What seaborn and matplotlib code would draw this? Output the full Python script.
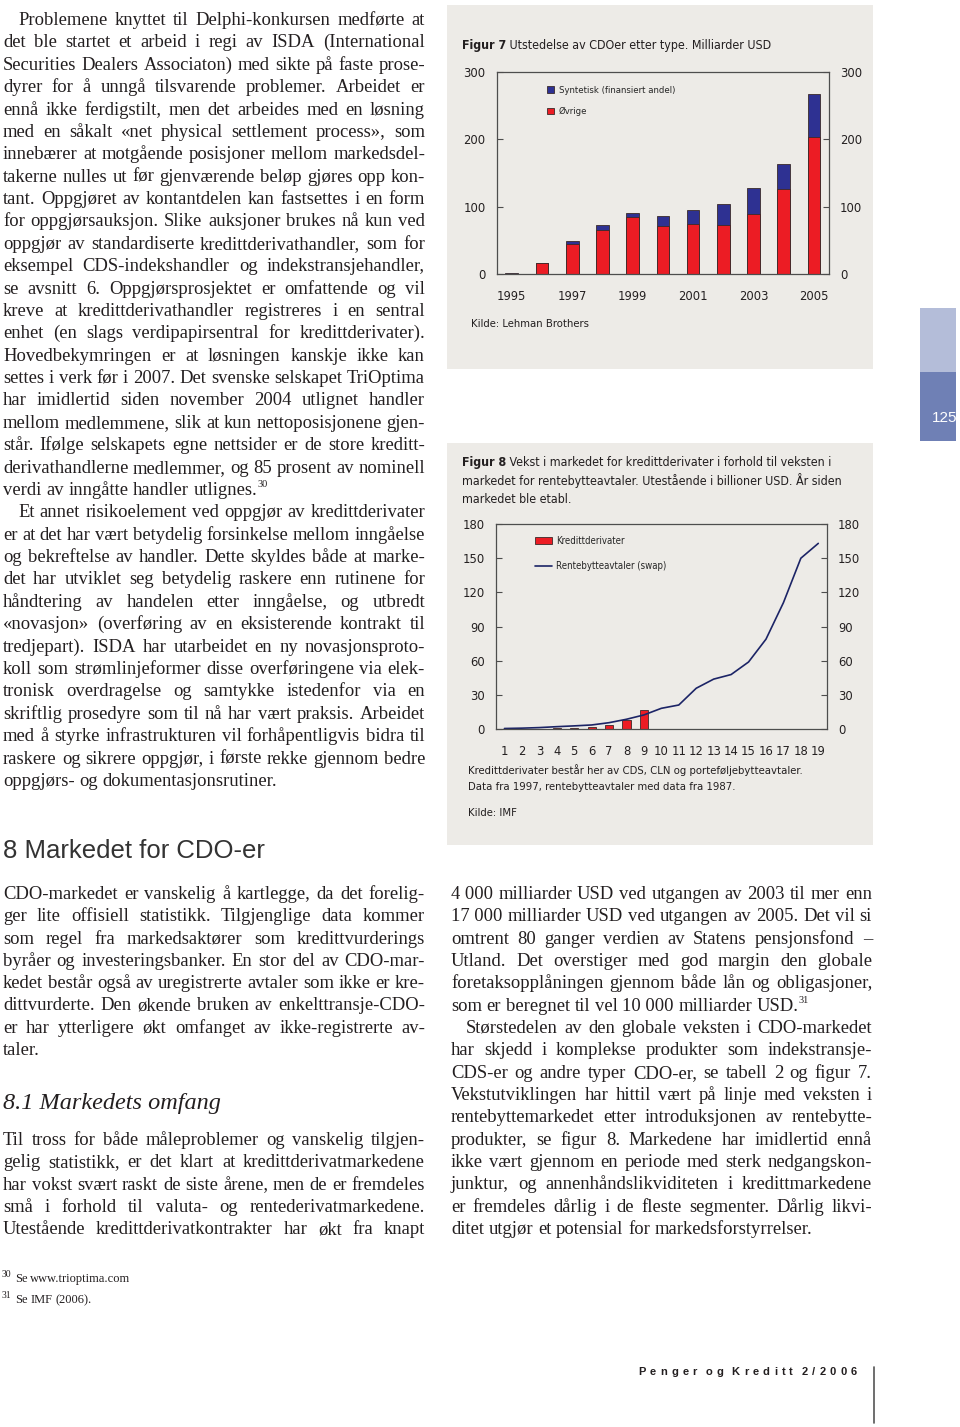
import matplotlib
matplotlib.use("Agg")
import matplotlib.pyplot as plt
from matplotlib import font_manager
from matplotlib.font_manager import FontProperties
from matplotlib.patches import Rectangle
from matplotlib.lines import Line2D
import pandas as pd
import seaborn as sns


# --------------------------------------------------
# Chart data
# --------------------------------------------------

cdo_years = ["1995", "1996", "1997", "1998", "1999", "2000",
             "2001", "2002", "2003", "2004", "2005"]
cdo_ovrige = [1, 16, 45, 66, 85, 72, 74, 73, 89, 126, 203]
cdo_syntetisk = [0.5, 0, 5, 6.5, 6, 15, 21, 31.5, 39, 38, 64]

swap_years = list(range(1, 20))
swap_values = [0.7, 1.0, 1.5, 2.3, 3.0, 3.8, 5.8, 8.8, 12.6, 18.4,
               21.3, 36, 44, 48, 59, 79, 111, 150, 163]

kreditt_years = list(range(1, 10))
kreditt_values = [0.2, 0.35, 0.6, 0.9, 1.2, 2.3, 3.5, 8.2, 17]


# --------------------------------------------------
# Page text
# --------------------------------------------------

left_par1 = [
    "Problemene knyttet til Delphi-konkursen medførte at",
    "det ble startet et arbeid i regi av ISDA (International",
    "Securities Dealers Associaton) med sikte på faste prose-",
    "dyrer for å unngå tilsvarende problemer. Arbeidet er",
    "ennå ikke ferdigstilt, men det arbeides med en løsning",
    "med en såkalt «net physical settlement process», som",
    "innebærer at motgående posisjoner mellom markedsdel-",
    "takerne nulles ut før gjenværende beløp gjøres opp kon-",
    "tant. Oppgjøret av kontantdelen kan fastsettes i en form",
    "for oppgjørsauksjon. Slike auksjoner brukes nå kun ved",
    "oppgjør av standardiserte kredittderivathandler, som for",
    "eksempel CDS-indekshandler og indekstransjehandler,",
    "se avsnitt 6. Oppgjørsprosjektet er omfattende og vil",
    "kreve at kredittderivathandler registreres i en sentral",
    "enhet (en slags verdipapirsentral for kredittderivater).",
    "Hovedbekymringen er at løsningen kanskje ikke kan",
    "settes i verk før i 2007. Det svenske selskapet TriOptima",
    "har imidlertid siden november 2004 utlignet handler",
    "mellom medlemmene, slik at kun nettoposisjonene gjen-",
    "står. Ifølge selskapets egne nettsider er de store kreditt-",
    "derivathandlerne medlemmer, og 85 prosent av nominell",
    "verdi av inngåtte handler utlignes.^30",
]

left_par2 = [
    "Et annet risikoelement ved oppgjør av kredittderivater",
    "er at det har vært betydelig forsinkelse mellom inngåelse",
    "og bekreftelse av handler. Dette skyldes både at marke-",
    "det har utviklet seg betydelig raskere enn rutinene for",
    "håndtering av handelen etter inngåelse, og utbredt",
    "«novasjon» (overføring av en eksisterende kontrakt til",
    "tredjepart). ISDA har utarbeidet en ny novasjonsproto-",
    "koll som strømlinjeformer disse overføringene via elek-",
    "tronisk overdragelse og samtykke istedenfor via en",
    "skriftlig prosedyre som til nå har vært praksis. Arbeidet",
    "med å styrke infrastrukturen vil forhåpentligvis bidra til",
    "raskere og sikrere oppgjør, i første rekke gjennom bedre",
    "oppgjørs- og dokumentasjonsrutiner.",
]

left_par3 = [
    "CDO-markedet er vanskelig å kartlegge, da det forelig-",
    "ger lite offisiell statistikk. Tilgjenglige data kommer",
    "som regel fra markedsaktører som kredittvurderings",
    "byråer og investeringsbanker. En stor del av CDO-mar-",
    "kedet består også av uregistrerte avtaler som ikke er kre-",
    "dittvurderte. Den økende bruken av enkelttransje-CDO-",
    "er har ytterligere økt omfanget av ikke-registrerte av-",
    "taler.",
]

left_par4 = [
    "Til tross for både måleproblemer og vanskelig tilgjen-",
    "gelig statistikk, er det klart at kredittderivatmarkedene",
    "har vokst svært raskt de siste årene, men de er fremdeles",
    "små i forhold til valuta- og rentederivatmarkedene.",
    "Utestående kredittderivatkontrakter har økt fra knapt",
]

right_par1 = [
    "4\u00a0000 milliarder USD ved utgangen av 2003 til mer enn",
    "17\u00a0000 milliarder USD ved utgangen av 2005. Det vil si",
    "omtrent 80 ganger verdien av Statens pensjonsfond –",
    "Utland. Det overstiger med god margin den globale",
    "foretaksopplåningen gjennom både lån og obligasjoner,",
    "som er beregnet til vel 10\u00a0000 milliarder USD.^31",
]

right_par2 = [
    "Størstedelen av den globale veksten i CDO-markedet",
    "har skjedd i komplekse produkter som indekstransje-",
    "CDS-er og andre typer CDO-er, se tabell 2 og figur 7.",
    "Vekstutviklingen har hittil vært på linje med veksten i",
    "rentebyttemarkedet etter introduksjonen av rentebytte-",
    "produkter, se figur 8. Markedene har imidlertid ennå",
    "ikke vært gjennom en periode med sterk nedgangskon-",
    "junktur, og annenhåndslikviditeten i kredittmarkedene",
    "er fremdeles dårlig i de fleste segmenter. Dårlig likvi-",
    "ditet utgjør et potensial for markedsforstyrrelser.",
]


# --------------------------------------------------
# Fonts
# --------------------------------------------------

W, H = 960, 1427
PX = 100 / 72  # pixels per point

sns.set_style("white")


def pick(names):
    for name in names:
        try:
            font_manager.findfont(name, fallback_to_default=False)
            return name
        except Exception:
            continue
    return "DejaVu Sans"


def condensed_file(bold):
    # look for a narrow sans face; the charts use a condensed Helvetica
    best = None
    for f in font_manager.fontManager.ttflist:
        narrow = ("Narrow" in f.name or "Condensed" in f.name
                  or f.stretch in ("condensed", "semi-condensed")
                  or "Condensed" in f.fname or "Narrow" in f.fname)
        if not narrow or f.style != "normal":
            continue
        is_bold = f.weight in ("bold", 700) or "Bold" in f.fname
        if is_bold != bold:
            continue
        if "Serif" in f.fname or "Mono" in f.fname:
            continue
        rank = 0 if "Liberation" in f.fname else 1
        if best is None or rank < best[0]:
            best = (rank, f.fname)
    return best[1] if best else None


SERIF = pick(["Liberation Serif", "DejaVu Serif"])
SANS = pick(["Liberation Sans", "DejaVu Sans"])
plt.rcParams["font.family"] = [SANS, "DejaVu Sans"]

_reg = condensed_file(False)
_bold = condensed_file(True)
# sizes below are tuned for the condensed face; plain sans is a bit wider
NSCALE = 1.0 if _reg else 0.95


def nfont(size, bold=False):
    path = _bold if bold else _reg
    if path:
        return FontProperties(fname=path, size=size * NSCALE)
    return FontProperties(family=SANS, size=size * NSCALE,
                          weight="bold" if bold else "normal")


INK = "#231f20"
PANEL = "#edebe7"
RED = "#ec1c24"
BLUE = "#2e3192"
NAVY = "#1c2466"
EDGE = "#3a2a2a"

fig = plt.figure(figsize=(9.6, 14.27), dpi=100)
fig.patch.set_facecolor("white")
renderer = fig.canvas.get_renderer()


def fx(x):
    return x / W


def fy(y):
    return 1 - y / H


def put_words(words, x0, x1, y, justify, size, sup_size=None, **kw):
    items = []
    for w in words:
        base, _, sup = w.partition("^")
        t = fig.text(0, 0, base, fontsize=size, va="baseline", ha="left", **kw)
        bw = t.get_window_extent(renderer).width if base else 0
        s, sw = None, 0
        if sup:
            s = fig.text(0, 0, sup, fontsize=sup_size or size * 0.55,
                         va="baseline", ha="left", **kw)
            sw = s.get_window_extent(renderer).width
        items.append((t, s, bw, bw + sw))
    total = sum(i[3] for i in items)
    if justify and len(items) > 1:
        gap = (x1 - x0 - total) / (len(items) - 1)
    else:
        gap = 0.25 * size * PX
    x = x0
    for t, s, bw, w in items:
        t.set_position((fx(x), fy(y)))
        if s is not None:
            s.set_position((fx(x + bw), fy(y - size * 0.42 * PX)))
        x += w + gap
    return x


def put_paragraph(lines, x0, x1, y0, step, indent, size, last_justified=False, **kw):
    for i, line in enumerate(lines):
        xs = x0 + (indent if i == 0 else 0)
        just = i < len(lines) - 1 or last_justified
        put_words(line.split(" "), xs, x1, y0 + i * step + 5, just, size, **kw)


def put_runs(x, y, runs, size):
    for text, bold in runs:
        t = fig.text(fx(x), fy(y), text, fontproperties=nfont(size, bold),
                     va="center", ha="left", color=INK)
        x += t.get_window_extent(renderer).width


# --------------------------------------------------
# Body text
# --------------------------------------------------

BODY = 13.4
STEP = 22.38
body_kw = dict(family=SERIF, color=INK)

put_paragraph(left_par1, 3, 425, 20, STEP, 15, BODY, **body_kw)
put_paragraph(left_par2, 3, 425, 20 + 22 * STEP, STEP, 15, BODY, **body_kw)

fig.text(fx(3), fy(851), "8 Markedet for CDO-er", fontsize=18.5, family=SANS,
         color="#333333", va="center", ha="left")

put_paragraph(left_par3, 3, 425, 894, 22.3, 0, BODY, **body_kw)

fig.text(fx(3), fy(1104), "8.1 Markedets omfang", fontsize=17.5, family=SERIF,
         style="italic", color=INK, va="center", ha="left")

put_paragraph(left_par4, 3, 425, 1140, 22.3, 0, BODY, last_justified=True, **body_kw)

put_paragraph(right_par1, 451, 872, 894, 22.33, 0, BODY, **body_kw)
put_paragraph(right_par2, 451, 872, 894 + 6 * 22.33, 22.33, 15, BODY, **body_kw)

# footnotes
put_words(["^30", "Se", "www.trioptima.com"], 2, 0, 1282, False, 9,
          sup_size=7, **body_kw)
put_words(["^31", "Se", "IMF", "(2006)."], 2, 0, 1303, False, 9,
          sup_size=7, **body_kw)

# footer
footer = [c if c != " " else "" for c in "Penger og Kreditt 2/2006"]
put_words(footer, 638, 857, 1375, True, 8, family=SANS, fontweight="bold",
          color=INK)
fig.add_artist(Line2D([fx(874), fx(874)], [fy(1367), fy(1423)],
                      color="#555555", lw=1.2))

# side tab
fig.add_artist(Rectangle((fx(920), fy(372)), 36 / W, 64 / H,
                         facecolor="#b4bdd9", edgecolor="none"))
fig.add_artist(Rectangle((fx(920), fy(441)), 36 / W, 69 / H,
                         facecolor="#6f80b5", edgecolor="none"))
fig.text(fx(932), fy(418), "125", fontsize=11, color="white", family=SANS,
         va="center", ha="left")

# chart panels
fig.add_artist(Rectangle((fx(447), fy(369)), 426 / W, 364 / H,
                         facecolor=PANEL, edgecolor="none", zorder=-1))
fig.add_artist(Rectangle((fx(447), fy(845)), 426 / W, 402 / H,
                         facecolor=PANEL, edgecolor="none", zorder=-1))


def style_axes(ax):
    ax.set_facecolor("none")
    for sp in ax.spines.values():
        sp.set_color("#4d4d4d")
        sp.set_linewidth(0.9)
    ax.tick_params(axis="y", direction="in", length=4, width=0.8,
                   left=True, right=True, labelleft=True, labelright=True,
                   pad=8, colors="#4d4d4d", labelcolor=INK)
    ax.tick_params(axis="x", which="major", length=0, pad=11.5, labelcolor=INK)
    ax.tick_params(axis="x", which="minor", direction="in", length=3,
                   width=0.8, colors="#4d4d4d")
    for lab in ax.get_xticklabels() + ax.get_yticklabels():
        lab.set_fontproperties(nfont(9.3))
    ax.set_xlabel("")
    ax.set_ylabel("")


# --------------------------------------------------
# Figur 7
# --------------------------------------------------

df7 = pd.DataFrame({"year": cdo_years, "ovrige": cdo_ovrige,
                    "syntetisk": cdo_syntetisk})
df7["total"] = df7["ovrige"] + df7["syntetisk"]

ax1 = fig.add_axes([fx(496.7), fy(274.3), (829 - 496.7) / W, (274.3 - 71.7) / H])
sns.barplot(data=df7, x="year", y="total", color=BLUE, saturation=1,
            width=0.42, edgecolor=EDGE, linewidth=0.6, errorbar=None,
            label="Syntetisk (finansiert andel)", ax=ax1)
sns.barplot(data=df7, x="year", y="ovrige", color=RED, saturation=1,
            width=0.42, edgecolor=EDGE, linewidth=0.6, errorbar=None,
            label="Øvrige", ax=ax1)
ax1.set_xlim(-0.5, len(cdo_years) - 0.5)
ax1.set_ylim(0, 300)
ax1.set_yticks([0, 100, 200, 300])
ax1.set_xticks(range(0, len(cdo_years), 2))
ax1.set_xticklabels(cdo_years[::2])
ax1.set_xticks([i + 0.5 for i in range(len(cdo_years) - 1)], minor=True)
style_axes(ax1)

h, l = ax1.get_legend_handles_labels()
ax1.legend(h, l, loc="upper left", bbox_to_anchor=(0.152, 0.93),
           borderaxespad=0, borderpad=0, frameon=False,
           prop=nfont(6.8),
           handlelength=0.75, handleheight=0.75, handletextpad=0.5,
           labelspacing=1.3)

put_runs(462, 46, [("Figur 7", True),
                   (" Utstedelse av CDOer etter type. Milliarder USD", False)], 8.9)
fig.text(fx(471), fy(324), "Kilde: Lehman Brothers", fontproperties=nfont(8.1),
         color=INK, va="center", ha="left")


# --------------------------------------------------
# Figur 8
# --------------------------------------------------

ax2 = fig.add_axes([fx(495.7), fy(729.3), (827 - 495.7) / W, (729.3 - 524) / H])
sns.barplot(x=kreditt_years, y=kreditt_values, native_scale=True, color=RED,
            saturation=1, width=0.47, edgecolor=EDGE, linewidth=0.6,
            errorbar=None, label="Kredittderivater", ax=ax2)
sns.lineplot(x=swap_years, y=swap_values, color=NAVY, linewidth=1.2,
             label="Rentebytteavtaler (swap)", ax=ax2)
ax2.set_xlim(0.5, 19.5)
ax2.set_ylim(0, 180)
ax2.set_yticks(range(0, 181, 30))
ax2.set_xticks(swap_years)
ax2.set_xticklabels([str(v) for v in swap_years])
ax2.set_xticks([v + 0.5 for v in swap_years[:-1]], minor=True)
style_axes(ax2)

h, l = ax2.get_legend_handles_labels()
order = [l.index("Kredittderivater"), l.index("Rentebytteavtaler (swap)")]
ax2.legend([h[i] for i in order], [l[i] for i in order], loc="upper left",
           bbox_to_anchor=(0.12, 0.94), borderaxespad=0, borderpad=0,
           frameon=False, prop=nfont(6.9),
           handlelength=1.75, handleheight=0.75, handletextpad=0.4,
           labelspacing=1.55)

put_runs(462, 462.5, [("Figur 8", True),
                      (" Vekst i markedet for kredittderivater i forhold til veksten i",
                       False)], 8.9)
put_runs(462, 481, [("markedet for rentebytteavtaler. Utestående i billioner USD. År siden",
                     False)], 8.9)
put_runs(462, 499.5, [("markedet ble etabl.", False)], 8.9)

fig.text(fx(468), fy(770), "Kredittderivater består her av CDS, CLN og porteføljebytteavtaler.",
         fontproperties=nfont(8.1), color=INK, va="center", ha="left")
fig.text(fx(468), fy(786.5), "Data fra 1997, rentebytteavtaler med data fra 1987.",
         fontproperties=nfont(8.1), color=INK, va="center", ha="left")
fig.text(fx(468), fy(813.5), "Kilde: IMF", fontproperties=nfont(8.1),
         color=INK, va="center", ha="left")

fig.savefig("out.png", dpi=100, facecolor="white")
